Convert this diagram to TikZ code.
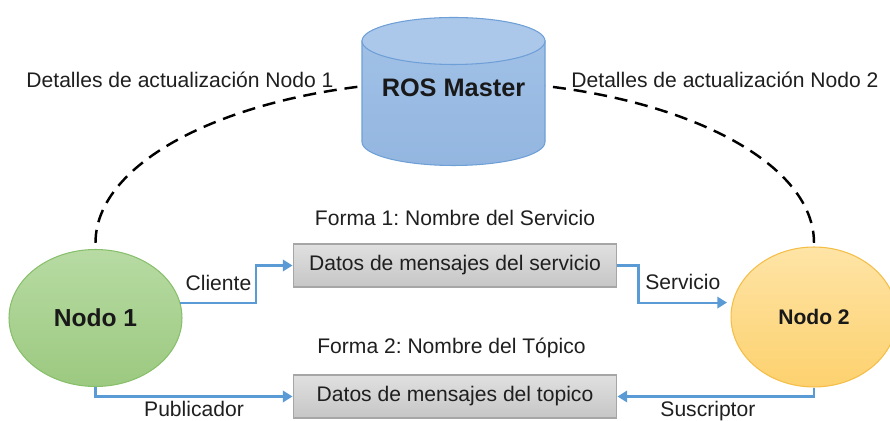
\documentclass[tikz,border=0pt]{standalone}
\usepackage{fontspec}
\setmainfont{Liberation Sans}
\frenchspacing
\usetikzlibrary{arrows.meta,shapes.geometric,positioning}

\definecolor{flowblue}{HTML}{5B9BD5}
\definecolor{cyltop}{HTML}{ABC8EB}
\definecolor{cylbody}{HTML}{A0C0E6}
\definecolor{cylbot}{HTML}{93B6E0}
\definecolor{cyledge}{HTML}{6E9FD6}
\definecolor{greentop}{HTML}{B7DBA3}
\definecolor{greenbot}{HTML}{9CC980}
\definecolor{greenedge}{HTML}{88BF6B}
\definecolor{orangetop}{HTML}{FEE4A6}
\definecolor{orangebot}{HTML}{FDD16E}
\definecolor{orangeedge}{HTML}{F4BE47}
\definecolor{boxtop}{HTML}{E0E0E0}
\definecolor{boxbot}{HTML}{C6C6C6}
\definecolor{boxedge}{HTML}{A6A6A6}

\begin{document}
\begin{tikzpicture}[x=0.02cm, y=-0.02cm, >={Triangle[length=5.5pt,width=6.5pt]},
    lbl/.style={font=\fontsize{12}{14}\selectfont, text=black!88, inner sep=1pt},
    rosnode/.style={ellipse, line width=0.6pt, text=black!90},
    msgbox/.style={rectangle, draw=boxedge, line width=0.6pt, top color=boxtop,
      bottom color=boxbot, minimum width=6.48cm, minimum height=0.86cm,
      font=\fontsize{12}{14}\selectfont, text=black!88},
    flow/.style={->, draw=flowblue, line width=1.2pt},
    link/.style={dash pattern=on 7.4pt off 4.5pt, line width=1.4pt}]

  \useasboundingbox (0,0) rectangle (890,421);

  % nodes
  \node[rosnode, draw=greenedge, top color=greentop, bottom color=greenbot,
        minimum width=3.46cm, minimum height=2.74cm,
        font=\bfseries\fontsize{14}{16}\selectfont] (N1) at (95.5,318) {Nodo 1};
  \node[rosnode, draw=orangeedge, top color=orangetop, bottom color=orangebot,
        minimum width=3.32cm, minimum height=2.8cm,
        font=\bfseries\fontsize{12}{14}\selectfont] (N2) at (814,317) {Nodo 2};

  % update line to the master, behind the cylinder
  \draw[link] ([yshift=3.5pt]N1.north) arc[start angle=180, end angle=360,
    x radius=359.25, y radius=162];

  % ROS Master cylinder
  \draw[draw=cyledge, line width=0.6pt, top color=cylbody, bottom color=cylbot]
    (362,41) -- (362,142) arc[start angle=180, end angle=0, x radius=91.5, y radius=23.5]
    -- (545,41) -- cycle;
  \draw[draw=cyledge, line width=0.6pt, fill=cyltop] (453.5,41) ellipse[x radius=91.5, y radius=23.5];
  \node[font=\bfseries\fontsize{14.4}{16}\selectfont, text=black!90] (M) at (453.5,88) {ROS Master};

  \node[lbl] (D1) at (180,80) {Detalles de actualización Nodo 1};
  \node[lbl] (D2) at (725,80) {Detalles de actualización Nodo 2};

  % message boxes
  \node[msgbox] (S) at (455,265.5) {Datos de mensajes del servicio};
  \node[msgbox] (T) at (455,396.5) {Datos de mensajes del topico};
  \node[lbl, above=9pt of S] (F1) {Forma 1: Nombre del Servicio};
  \node[lbl, above=8pt of T, xshift=-2pt] (F2) {Forma 2: Nombre del Tópico};

  % data flow
  \draw[flow] (N1.10) -- ++(76,0) node[lbl, midway, above=5.5pt] {Cliente} |- (S.west);
  \draw[flow] (S.east) -- ++(21,0) |- node[lbl, pos=0.75, above=5.5pt] {Servicio}
    ([xshift=-3pt]N2.170);
  \draw[flow] (N1.south) |- node[lbl, pos=0.75, below=1pt] {Publicador} (T.west);
  \draw[flow] (N2.south) |- node[lbl, pos=0.77, below=1pt] {Suscriptor} (T.east);
\end{tikzpicture}
\end{document}
